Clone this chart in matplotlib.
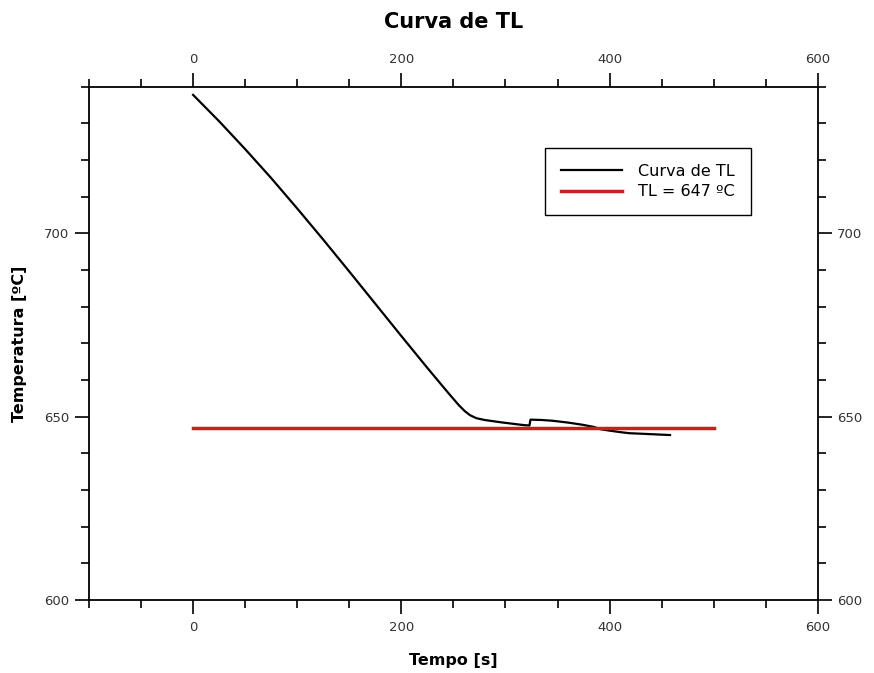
import numpy as np
import matplotlib.pyplot as plt
from matplotlib.ticker import MultipleLocator

# curve
tempo = [0, 25, 50, 75, 100, 125, 150, 175, 200, 225, 245, 255, 261,
         266, 272, 280, 295, 309, 318, 323, 324, 335, 345, 360, 374, 385,
         391, 400, 410, 419, 435, 450, 458]
temperatura = [737.8, 730.6, 723.0, 715.1, 706.8, 698.3, 689.6, 680.8,
               672.0, 663.3, 656.5, 653.2, 651.5, 650.4, 649.6, 649.1, 648.5,
               648.0, 647.7, 647.6, 649.2, 649.1, 648.9, 648.4, 647.8, 647.2,
               646.6, 646.2, 645.8, 645.5, 645.3, 645.1, 645.0]

tl_valor = 647
tl_x = [0, 500]

fig = plt.figure(figsize=(8.74, 6.73), dpi=100)
ax = fig.add_axes([0.1018, 0.1085, 0.834, 0.7625])

ax.plot(tempo, temperatura, color='black', lw=1.6, label='Curva de TL')
ax.plot(tl_x, [tl_valor, tl_valor], color='#c8201e', lw=2.5,
        label='TL = %d ºC' % tl_valor)

ax.set_xlim(-100, 600)
ax.set_ylim(600, 740)
ax.xaxis.set_major_locator(MultipleLocator(200))
ax.xaxis.set_minor_locator(MultipleLocator(50))
ax.yaxis.set_major_locator(MultipleLocator(50))
ax.yaxis.set_minor_locator(MultipleLocator(10))
ax.tick_params(which='both', direction='out', top=True, right=True,
               labeltop=True, labelright=True, labelsize=9.5,
               labelcolor='#333333', width=1.2)
ax.tick_params(which='major', length=10, pad=4)
ax.tick_params(axis='x', which='major', pad=5)
ax.tick_params(which='minor', length=6)
for s in ax.spines.values():
    s.set_linewidth(1.3)

ax.set_xlabel('Tempo [s]', fontsize=11.5, fontweight='bold', labelpad=14)
ax.set_ylabel('Temperatura [ºC]', fontsize=11.5, fontweight='bold')
ax.yaxis.set_label_coords(-0.085, 0.5)
ax.set_title('Curva de TL', fontsize=15, fontweight='bold', pad=42)

leg = ax.legend(loc='upper left', bbox_to_anchor=(0.6255, 0.881),
                borderaxespad=0, fancybox=False, framealpha=1,
                edgecolor='black', fontsize=11.5, handlelength=3.8,
                handletextpad=1.05, borderpad=1.0, labelspacing=0.35)
leg.get_frame().set_linewidth(1.0)

fig.savefig('out.png', dpi=100)
